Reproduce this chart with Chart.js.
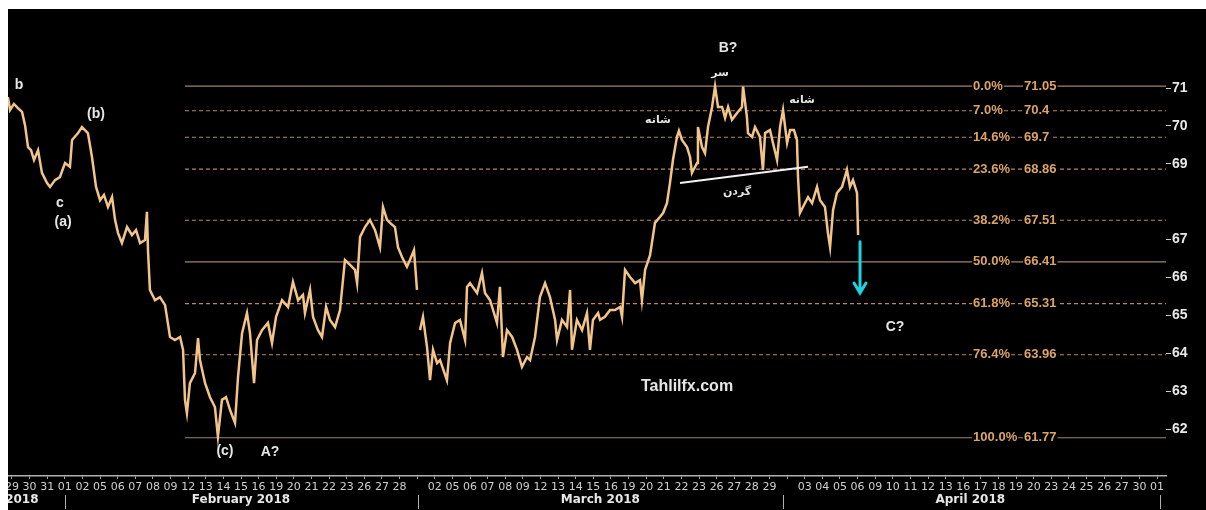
<!DOCTYPE html>
<html>
<head>
<meta charset="utf-8">
<script src="https://cdn.jsdelivr.net/npm/chart.js@4.4.1/dist/chart.umd.min.js"></script>
<style>
  body { margin: 0; background: #fff; }
  #box { position: absolute; left: 8px; top: 9px; width: 1198px; height: 501px; background: #000; }
</style>
</head>
<body>
<div id="box"><canvas id="chart" width="1198" height="501"></canvas></div>
<script>
// day labels, one per trading-day slot (blank slot = month separator)
const dayLabels = ["29","30","31","01","02","05","06","07","08","09","12","13","14","15","16","19","20","21","22","23","26","27","28","",
  "02","05","06","07","08","09","12","13","14","15","16","19","20","21","22","23","26","27","28","29","",
  "03","04","05","06","09","10","11","12","13","16","17","18","19","20","23","24","25","26","27","30","01"];
const monthNames = ["January 2018", "February 2018", "March 2018", "April 2018"];
const monthCenters = [-1.02, 13.0, 33.4, 54.4];
const monthStarts = [3, 23.05, 43.75, 65.17];

const yTicks = [62, 63, 64, 65, 66, 67, 69, 70, 71];

// fibonacci retracement levels
const fibPct = ["0.0%", "7.0%", "14.6%", "23.6%", "38.2%", "50.0%", "61.8%", "76.4%", "100.0%"];
const fibVals = [71.05, 70.4, 69.7, 68.86, 67.51, 66.41, 65.31, 63.96, 61.77];
const fibSolid = [true, false, false, false, false, true, false, false, true];

// price path (x = trading-day slot, y = price), null = gap
const times = [
  -0.23,-0.11,0.11,0.34,0.57,0.74,0.91,1.08,1.25,1.48,
  1.70,1.99,2.16,2.44,2.72,3.01,3.29,3.41,3.75,3.97,
  4.31,4.54,4.77,5.00,5.22,5.45,5.68,5.85,6.02,6.24,
  6.53,6.81,7.04,7.27,7.55,7.66,7.72,7.83,8.12,8.40,
  8.69,8.97,9.25,9.54,9.71,9.82,9.93,10.10,10.39,10.56,
  10.67,10.96,11.24,11.52,11.69,11.92,12.15,12.38,12.66,12.83,
  13.06,13.34,13.51,13.74,13.91,14.19,14.53,14.76,14.99,15.33,
  15.67,15.95,16.24,16.52,16.63,16.92,17.09,17.37,17.60,17.83,
  18.05,18.34,18.62,18.90,19.19,19.47,19.59,19.76,20.04,20.32,
  20.61,20.89,21.06,21.29,21.46,21.74,21.91,22.14,22.42,22.59,
  22.82,22.99,
  23.08,
  23.16,23.33,23.56,23.73,23.90,24.13,24.30,24.69,24.87,25.15,
  25.43,25.72,25.83,26.00,26.40,26.68,26.85,27.14,27.53,27.70,
  27.87,28.10,28.39,28.67,28.95,29.24,29.41,29.69,29.97,30.26,
  30.54,30.83,30.94,31.22,31.51,31.68,31.79,32.07,32.36,32.64,
  32.81,32.98,33.27,33.38,33.66,33.95,34.23,34.52,34.63,34.80,
  35.08,35.37,35.65,35.76,35.94,36.22,36.50,36.79,36.96,37.18,
  37.35,37.52,37.75,37.86,38.03,38.32,38.49,38.60,38.89,38.94,
  39.17,39.34,39.51,39.74,39.91,40.08,40.31,40.48,40.65,40.87,
  41.16,41.44,41.50,41.72,41.78,42.01,42.18,42.46,42.63,42.75,
  43.03,43.20,43.43,43.60,43.77,44.00,44.17,44.39,44.56,44.62,
  44.73,44.90,45.19,45.42,45.70,45.87,46.15,46.32,46.44,46.61,
  46.83,47.12,47.40,47.57,47.74,47.97,48.03
];
const prices = [
  70.76,70.42,70.58,70.47,70.37,70.02,69.44,69.36,69.10,69.36,
  68.76,68.49,68.39,68.57,68.65,69.02,68.92,69.63,69.81,69.97,
  69.81,69.18,68.39,68.04,68.18,67.86,68.12,67.52,67.17,66.91,
  67.33,67.12,67.25,66.91,66.99,67.73,66.72,65.67,65.40,65.48,
  65.27,64.43,64.35,64.43,64.09,62.77,62.42,63.21,63.48,64.40,
  63.82,63.21,62.84,62.58,61.80,62.77,62.84,62.50,62.16,63.37,
  64.53,65.06,64.53,63.21,64.35,64.61,64.80,64.27,64.96,65.40,
  65.22,65.88,65.40,65.54,65.06,65.67,64.96,64.61,64.43,65.22,
  64.88,64.69,65.14,66.46,66.33,66.20,65.85,67.07,67.33,67.52,
  67.25,66.80,67.86,67.52,67.44,67.33,66.80,66.54,66.28,66.46,
  66.72,65.67,
  null,
  64.61,64.96,64.16,63.29,64.09,63.74,63.82,63.29,64.27,64.80,
  64.88,64.35,65.75,65.85,65.59,66.12,65.59,65.40,64.80,65.75,
  63.90,64.61,64.43,64.09,63.64,63.90,63.82,64.43,65.48,65.85,
  65.48,64.88,64.35,64.88,64.69,65.67,64.09,64.88,64.61,65.06,
  64.09,64.88,65.06,64.88,64.96,65.14,65.14,65.22,64.96,66.20,
  66.01,65.85,65.93,65.40,66.20,66.59,67.44,67.60,67.70,67.96,
  68.49,69.10,69.71,69.87,69.63,69.44,69.18,68.76,69.02,69.97,
  69.44,69.28,69.97,70.50,71.04,70.50,70.50,70.21,70.50,70.16,
  70.34,70.50,71.04,70.23,69.81,69.71,69.97,69.71,68.84,69.81,
  69.89,69.55,69.10,69.97,70.42,69.55,69.89,69.89,69.63,68.65,
  67.70,67.86,68.12,67.96,68.39,68.04,67.86,67.17,66.80,67.78,
  68.23,68.39,68.84,68.39,68.57,68.23,67.12
];

// neckline and target arrow
const neckX = [37.92, 45.19];
const neckY = [68.49, 68.92];
const arrowX = 48.14;
const arrowY = [66.94, 65.59];

const xMin = -0.227, xMax = 65.51;
const fibStart = 9.82, fibPctAt = 54.56, fibValAt = 57.45;

// wave / pattern labels
const notes = [
  { t: "b", x: 0.40, y: 71.08, f: 'bold 14px "Liberation Sans"' },
  { t: "(b)", x: 4.77, y: 70.31, f: 'bold 14px "Liberation Sans"' },
  { t: "c", x: 2.72, y: 67.96, f: 'bold 14px "Liberation Sans"' },
  { t: "(a)", x: 2.90, y: 67.46, f: 'bold 14px "Liberation Sans"' },
  { t: "(c)", x: 12.09, y: 61.42, f: 'bold 14px "Liberation Sans"' },
  { t: "A?", x: 14.65, y: 61.39, f: 'bold 14px "Liberation Sans"' },
  { t: "B?", x: 40.65, y: 72.06, f: 'bold 14px "Liberation Sans"' },
  { t: "C?", x: 50.13, y: 64.69, f: 'bold 14px "Liberation Sans"' },
  { t: "سر", x: 40.19, y: 71.38, f: 'bold 11px "DejaVu Sans"' },
  { t: "شانه", x: 36.67, y: 70.16, f: 'bold 11px "DejaVu Sans"' },
  { t: "شانه", x: 44.85, y: 70.68, f: 'bold 11px "DejaVu Sans"' },
  { t: "گردن", x: 41.16, y: 68.26, f: 'bold 11px "DejaVu Sans"' },
  { t: "Tahlilfx.com", x: 38.32, y: 63.11, f: 'bold 16px "Liberation Sans"' }
];

const overlay = {
  id: 'overlay',
  afterDatasetsDraw(chart) {
    const { ctx, scales: { x, y } } = chart;
    ctx.save();
    ctx.textBaseline = 'middle';
    ctx.textAlign = 'left';
    ctx.font = 'bold 13px "Liberation Sans"';
    fibVals.forEach((v, i) => {
      const py = y.getPixelForValue(v);
      [[fibPct[i], fibPctAt], [String(v), fibValAt]].forEach(([s, at]) => {
        const px = x.getPixelForValue(at);
        const w = ctx.measureText(s).width;
        ctx.fillStyle = '#000';
        ctx.fillRect(px - 1, py - 7, w + 2, 14);
        ctx.fillStyle = '#dca366';
        ctx.fillText(s, px, py);
      });
    });

    // cyan arrow
    const ax = x.getPixelForValue(arrowX);
    const ay0 = y.getPixelForValue(arrowY[0]);
    const ay1 = y.getPixelForValue(arrowY[1]);
    ctx.strokeStyle = '#1ed2e2';
    ctx.lineWidth = 3;
    ctx.lineCap = 'round';
    ctx.beginPath();
    ctx.moveTo(ax, ay0);
    ctx.lineTo(ax, ay1);
    ctx.moveTo(ax - 6, ay1 - 10);
    ctx.lineTo(ax, ay1);
    ctx.lineTo(ax + 6, ay1 - 10);
    ctx.stroke();

    // text notes
    ctx.textAlign = 'center';
    ctx.fillStyle = '#e6e6e6';
    notes.forEach(n => {
      ctx.font = n.f;
      ctx.fillText(n.t, x.getPixelForValue(n.x), y.getPixelForValue(n.y));
    });
    ctx.restore();
  },
  afterDraw(chart) {
    const { ctx, scales: { x } } = chart;
    ctx.save();
    ctx.font = 'bold 12px "DejaVu Sans"';
    ctx.fillStyle = '#e6e6e6';
    ctx.textAlign = 'center';
    ctx.textBaseline = 'middle';
    monthNames.forEach((m, i) => ctx.fillText(m, x.getPixelForValue(monthCenters[i]), 491));
    ctx.strokeStyle = '#b0b0b0';
    ctx.lineWidth = 1;
    monthStarts.forEach(s => {
      const px = Math.round(x.getPixelForValue(s)) + 0.5;
      ctx.beginPath();
      ctx.moveTo(px, 486);
      ctx.lineTo(px, 500);
      ctx.stroke();
    });
    ctx.restore();
  }
};

const datasets = [
  {
    data: neckX.map((v, i) => ({ x: v, y: neckY[i] })),
    borderColor: '#f2f2f2',
    borderWidth: 2
  },
  {
    data: times.map((v, i) => ({ x: v, y: prices[i] })),
    borderColor: '#f3c48a',
    borderWidth: 2.5,
    spanGaps: false
  }
];
fibVals.forEach((v, i) => {
  datasets.push({
    data: [{ x: fibStart, y: v }, { x: xMax, y: v }],
    borderColor: fibSolid[i] ? '#9c8474' : '#b9865f',
    borderWidth: 1.2,
    borderDash: fibSolid[i] ? [] : [4, 3]
  });
});

new Chart(document.getElementById('chart'), {
  type: 'line',
  data: { datasets: datasets },
  options: {
    responsive: false,
    animation: false,
    layout: { padding: 0, autoPadding: false },
    elements: { point: { radius: 0 }, line: { tension: 0 } },
    plugins: { legend: { display: false }, tooltip: { enabled: false } },
    scales: {
      x: {
        type: 'linear',
        min: xMin,
        max: xMax,
        afterBuildTicks: s => { s.ticks = dayLabels.map((_, i) => ({ value: i })); },
        afterFit: s => { s.height = 34; s.paddingLeft = 0; s.paddingRight = 0; },
        ticks: {
          autoSkip: false,
          maxRotation: 0,
          padding: 2,
          color: '#cfcfcf',
          font: { family: 'DejaVu Sans', size: 11 },
          callback: v => dayLabels[v] ?? ''
        },
        grid: { drawOnChartArea: false, drawTicks: true, tickLength: 3, color: '#a0a0a0' },
        border: { display: true, color: '#b0b0b0', width: 1.5 }
      },
      y: {
        type: 'linear',
        position: 'right',
        min: 60.76,
        max: 73.085,
        afterBuildTicks: s => { s.ticks = yTicks.map(v => ({ value: v })); },
        afterFit: s => { s.width = 40; s.paddingTop = 0; s.paddingBottom = 0; },
        ticks: {
          padding: 1,
          color: '#e8e8e8',
          font: { family: 'Liberation Sans', size: 14, weight: 'bold' }
        },
        grid: { drawOnChartArea: false, drawTicks: true, tickLength: 5, color: '#cccccc' },
        border: { display: false }
      }
    }
  },
  plugins: [overlay]
});
</script>
</body>
</html>
